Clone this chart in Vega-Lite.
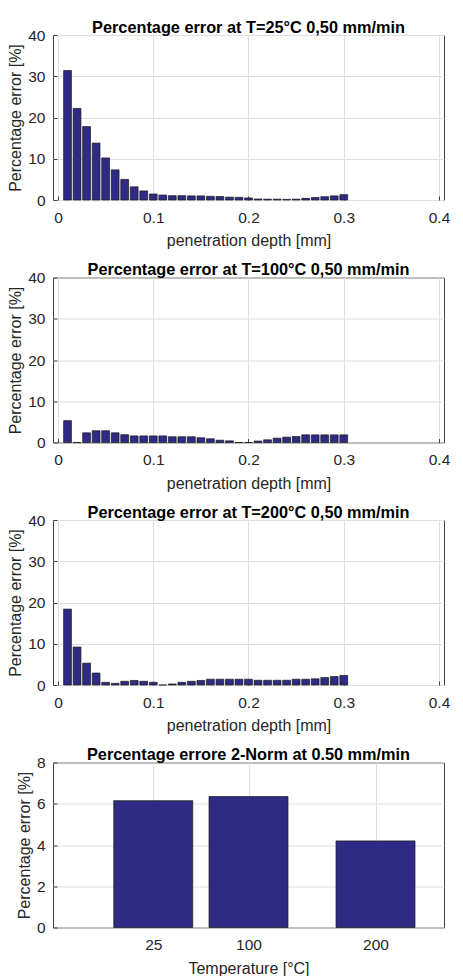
{
  "$schema": "https://vega.github.io/schema/vega-lite/v6.json",
  "padding": {"left": 7, "top": 19, "right": 0, "bottom": 0},
  "spacing": 12.5,
  "config": {
    "font": "Liberation Sans",
    "view": {"stroke": "#404040", "strokeWidth": 1},
    "title": {"fontSize": 16.3, "fontWeight": "bold", "color": "#000000", "offset": -8, "frame": "group"},
    "axis": {
      "labelFont": "Liberation Sans", "labelFontSize": 15.5, "labelColor": "#262626",
      "titleFont": "Liberation Sans", "titleFontSize": 16, "titleFontWeight": "normal", "titleColor": "#262626",
      "domain": false, "gridColor": "#dedede", "gridWidth": 1,
      "tickColor": "#404040", "tickSize": -4
    },
    "axisX": {"labelPadding": 14, "titlePadding": 7},
    "axisY": {"labelPadding": 12, "titlePadding": 4},
    "bar": {"fill": "#2f2b85", "stroke": "#1a1a1a", "strokeWidth": 0.7}
  },
  "datasets": {
    "t25": [
      {"depth": 0.01, "err": 31.4}, {"depth": 0.02, "err": 22.2}, {"depth": 0.03, "err": 17.8},
      {"depth": 0.04, "err": 13.8}, {"depth": 0.05, "err": 10.2}, {"depth": 0.06, "err": 7.3},
      {"depth": 0.07, "err": 5.0}, {"depth": 0.08, "err": 3.2}, {"depth": 0.09, "err": 2.2},
      {"depth": 0.10, "err": 1.45}, {"depth": 0.11, "err": 1.2}, {"depth": 0.12, "err": 1.05},
      {"depth": 0.13, "err": 1.05}, {"depth": 0.14, "err": 1.0}, {"depth": 0.15, "err": 1.0},
      {"depth": 0.16, "err": 0.9}, {"depth": 0.17, "err": 0.85}, {"depth": 0.18, "err": 0.7},
      {"depth": 0.19, "err": 0.65}, {"depth": 0.20, "err": 0.5}, {"depth": 0.21, "err": 0.25},
      {"depth": 0.22, "err": 0.2}, {"depth": 0.23, "err": 0.2}, {"depth": 0.24, "err": 0.15},
      {"depth": 0.25, "err": 0.2}, {"depth": 0.26, "err": 0.4}, {"depth": 0.27, "err": 0.6},
      {"depth": 0.28, "err": 0.8}, {"depth": 0.29, "err": 1.0}, {"depth": 0.30, "err": 1.3}
    ],
    "t100": [
      {"depth": 0.01, "err": 5.3}, {"depth": 0.02, "err": 0}, {"depth": 0.03, "err": 2.35},
      {"depth": 0.04, "err": 2.85}, {"depth": 0.05, "err": 2.85}, {"depth": 0.06, "err": 2.35},
      {"depth": 0.07, "err": 1.9}, {"depth": 0.08, "err": 1.6}, {"depth": 0.09, "err": 1.6},
      {"depth": 0.10, "err": 1.6}, {"depth": 0.11, "err": 1.6}, {"depth": 0.12, "err": 1.4},
      {"depth": 0.13, "err": 1.4}, {"depth": 0.14, "err": 1.4}, {"depth": 0.15, "err": 1.15},
      {"depth": 0.16, "err": 0.9}, {"depth": 0.17, "err": 0.55}, {"depth": 0.18, "err": 0.4},
      {"depth": 0.19, "err": 0}, {"depth": 0.20, "err": 0}, {"depth": 0.21, "err": 0.35},
      {"depth": 0.22, "err": 0.65}, {"depth": 0.23, "err": 1.05}, {"depth": 0.24, "err": 1.3},
      {"depth": 0.25, "err": 1.45}, {"depth": 0.26, "err": 1.85}, {"depth": 0.27, "err": 1.85},
      {"depth": 0.28, "err": 1.85}, {"depth": 0.29, "err": 1.85}, {"depth": 0.30, "err": 1.85}
    ],
    "t200": [
      {"depth": 0.01, "err": 18.4}, {"depth": 0.02, "err": 9.2}, {"depth": 0.03, "err": 5.3},
      {"depth": 0.04, "err": 2.9}, {"depth": 0.05, "err": 0.65}, {"depth": 0.06, "err": 0.4},
      {"depth": 0.07, "err": 0.9}, {"depth": 0.08, "err": 1.1}, {"depth": 0.09, "err": 0.9},
      {"depth": 0.10, "err": 0.65}, {"depth": 0.11, "err": 0}, {"depth": 0.12, "err": 0.25},
      {"depth": 0.13, "err": 0.65}, {"depth": 0.14, "err": 0.9}, {"depth": 0.15, "err": 1.1},
      {"depth": 0.16, "err": 1.4}, {"depth": 0.17, "err": 1.4}, {"depth": 0.18, "err": 1.4},
      {"depth": 0.19, "err": 1.4}, {"depth": 0.20, "err": 1.4}, {"depth": 0.21, "err": 1.15},
      {"depth": 0.22, "err": 1.15}, {"depth": 0.23, "err": 1.15}, {"depth": 0.24, "err": 1.15},
      {"depth": 0.25, "err": 1.4}, {"depth": 0.26, "err": 1.4}, {"depth": 0.27, "err": 1.5},
      {"depth": 0.28, "err": 1.8}, {"depth": 0.29, "err": 2.05}, {"depth": 0.30, "err": 2.3}
    ],
    "norm": [
      {"temp": 25, "err": 6.15}, {"temp": 100, "err": 6.35}, {"temp": 200, "err": 4.2}
    ]
  },
  "vconcat": [
    {
      "width": 391, "height": 165,
      "title": "Percentage error at T=25°C 0,50 mm/min",
      "data": {"name": "t25"},
      "mark": {"type": "bar", "width": 7.8},
      "encoding": {
        "x": {"field": "depth", "type": "quantitative", "scale": {"domain": [0, 0.4], "nice": false},
              "axis": {"values": [0, 0.1, 0.2, 0.3, 0.4], "format": "~g", "title": "penetration depth [mm]"}},
        "y": {"field": "err", "type": "quantitative", "scale": {"domain": [0, 40], "nice": false},
              "axis": {"values": [0, 10, 20, 30, 40], "title": "Percentage error [%]"}}
      }
    },
    {
      "width": 391, "height": 165,
      "title": "Percentage error at T=100°C 0,50 mm/min",
      "data": {"name": "t100"},
      "mark": {"type": "bar", "width": 7.8},
      "encoding": {
        "x": {"field": "depth", "type": "quantitative", "scale": {"domain": [0, 0.4], "nice": false},
              "axis": {"values": [0, 0.1, 0.2, 0.3, 0.4], "format": "~g", "title": "penetration depth [mm]"}},
        "y": {"field": "err", "type": "quantitative", "scale": {"domain": [0, 40], "nice": false},
              "axis": {"values": [0, 10, 20, 30, 40], "title": "Percentage error [%]"}}
      }
    },
    {
      "width": 391, "height": 165,
      "title": "Percentage error at T=200°C 0,50 mm/min",
      "data": {"name": "t200"},
      "mark": {"type": "bar", "width": 7.8},
      "encoding": {
        "x": {"field": "depth", "type": "quantitative", "scale": {"domain": [0, 0.4], "nice": false},
              "axis": {"values": [0, 0.1, 0.2, 0.3, 0.4], "format": "~g", "title": "penetration depth [mm]"}},
        "y": {"field": "err", "type": "quantitative", "scale": {"domain": [0, 40], "nice": false},
              "axis": {"values": [0, 10, 20, 30, 40], "title": "Percentage error [%]"}}
      }
    },
    {
      "width": 391, "height": 165,
      "title": "Percentage errore 2-Norm at 0.50 mm/min",
      "data": {"name": "norm"},
      "mark": {"type": "bar", "width": 79},
      "encoding": {
        "x": {"field": "temp", "type": "quantitative", "scale": {"domain": [-50, 250], "nice": false},
              "axis": {"values": [25, 100, 200], "title": "Temperature [°C]"}},
        "y": {"field": "err", "type": "quantitative", "scale": {"domain": [0, 8], "nice": false},
              "axis": {"values": [0, 2, 4, 6, 8], "title": "Percentage error [%]"}}
      }
    }
  ]
}
